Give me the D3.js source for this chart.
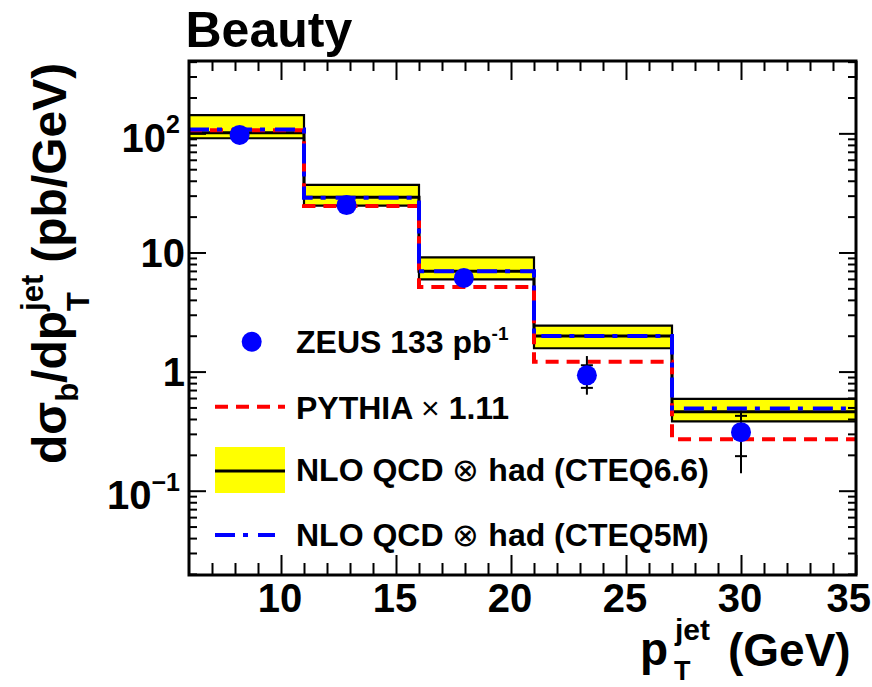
<!DOCTYPE html>
<html>
<head>
<meta charset="utf-8">
<script src="https://cdn.jsdelivr.net/npm/d3@7"></script>
<style>
  html, body { margin: 0; padding: 0; background: #fff; }
  svg { display: block; }
  text { font-family: "Liberation Sans", Arial, Helvetica, sans-serif; font-weight: bold; fill: #000; }
</style>
</head>
<body>
<svg id="chart" width="872" height="687"></svg>
<script>
// ---------------- data ----------------
const binEdges   = [6, 11, 16, 21, 27, 35];
const nloHigh    = [142, 37.0, 9.1, 2.43, 0.59];     // CTEQ6.6 band upper edge
const nloLow     = [91, 24.7, 5.95, 1.57, 0.382];    // CTEQ6.6 band lower edge
const nloCteq66  = [101, 29.1, 6.95, 1.99, 0.46];    // CTEQ6.6 central
const nloCteq5m  = [108, 28.8, 6.95, 1.99, 0.49];    // CTEQ5M
const pythia     = [106, 24.6, 5.13, 1.21, 0.27];    // PYTHIA x 1.11
const zeusX      = [8.2, 12.85, 17.95, 23.3, 30.0];
const zeusY      = [97, 25.0, 6.1, 0.93, 0.31];
const zeusStat   = [3, 0.8, 0.3, 0.2, 0.115];
const zeusErrUp  = [9, 2.5, 0.6, 0.42, 0.16];
const zeusErrDn  = [9, 2.5, 0.6, 0.29, 0.17];
const xMajorTicks = [10, 15, 20, 25, 30, 35];
const yMajorTicks = [0.1, 1, 10, 100];
const yTickLabels = [["10", "\u22121"], ["1", ""], ["10", ""], ["10", "2"]];
const legendLabels = ["ZEUS 133 pb", "PYTHIA", "NLO QCD", "NLO QCD"];

// ---------------- scales ----------------
const svg = d3.select("#chart");
const L = 189, R = 856, T = 61, B = 575;
const x = d3.scaleLinear().domain([6, 35]).range([L, R]);
const y = d3.scaleLog().domain([0.0196, 405]).range([B, T]);

// ---------------- theory ----------------
function stepData(vals) {
  const d = vals.map((v, i) => ({ x: binEdges[i], v }));
  d.push({ x: binEdges[binEdges.length - 1], v: vals[vals.length - 1] });
  return d;
}
const bandData = nloHigh.map((h, i) => ({ x: binEdges[i], hi: h, lo: nloLow[i] }));
bandData.push({ x: binEdges[binEdges.length - 1], hi: nloHigh[nloHigh.length - 1], lo: nloLow[nloLow.length - 1] });

const area = d3.area().curve(d3.curveStepAfter)
  .x(d => x(d.x)).y0(d => y(d.lo)).y1(d => y(d.hi));
const line = d3.line().curve(d3.curveStepAfter).x(d => x(d.x)).y(d => y(d.v));

const plot = svg.append("g");
plot.append("path").attr("d", area(bandData)).attr("fill", "#ffff00");
plot.append("path").attr("d", line(stepData(nloHigh))).attr("fill", "none").attr("stroke", "#000").attr("stroke-width", 2.2);
plot.append("path").attr("d", line(stepData(nloLow))).attr("fill", "none").attr("stroke", "#000").attr("stroke-width", 2.2);
plot.append("path").attr("d", line(stepData(nloCteq66))).attr("fill", "none").attr("stroke", "#000").attr("stroke-width", 3);
plot.append("path").attr("d", line(stepData(pythia))).attr("fill", "none").attr("stroke", "#ff0000").attr("stroke-width", 4).attr("stroke-dasharray", "13,8");
plot.append("path").attr("d", line(stepData(nloCteq5m))).attr("fill", "none").attr("stroke", "#0000ff").attr("stroke-width", 4).attr("stroke-dasharray", "20,8,5,10");

// ---------------- data points ----------------
const pts = zeusX.map((xv, i) => ({ x: xv, y: zeusY[i], st: zeusStat[i], up: zeusErrUp[i], dn: zeusErrDn[i] }));
const eb = plot.append("g").attr("stroke", "#000").attr("stroke-width", 2);
eb.selectAll("line.tot").data(pts).join("line")
  .attr("x1", d => x(d.x)).attr("x2", d => x(d.x))
  .attr("y1", d => y(d.y + d.up)).attr("y2", d => y(d.y - d.dn));
eb.selectAll("line.sh").data(pts).join("line")
  .attr("x1", d => x(d.x) - 6).attr("x2", d => x(d.x) + 6)
  .attr("y1", d => y(d.y + d.st)).attr("y2", d => y(d.y + d.st));
eb.selectAll("line.sl").data(pts).join("line")
  .attr("x1", d => x(d.x) - 6).attr("x2", d => x(d.x) + 6)
  .attr("y1", d => y(d.y - d.st)).attr("y2", d => y(d.y - d.st));
plot.selectAll("circle.pt").data(pts).join("circle")
  .attr("cx", d => x(d.x)).attr("cy", d => y(d.y)).attr("r", 10).attr("fill", "#0000ff");

// ---------------- axes (ticks) ----------------
const xMinor = d3.range(7, 35).filter(v => v % 5 !== 0);
const yMinor = [];
for (let e = -2; e <= 2; e++) for (let m = 2; m <= 9; m++) {
  const v = m * Math.pow(10, e);
  if (v > 0.0196 && v < 405) yMinor.push(v);
}
function styleAxis(g) {
  g.select(".domain").remove();
  g.selectAll(".tick line").attr("stroke", "#000").attr("stroke-width", 2);
  g.selectAll(".tick text").remove();
}
svg.append("g").attr("transform", `translate(0,${B})`).call(d3.axisBottom(x).tickValues(xMajorTicks).tickSize(-20).tickFormat("")).call(styleAxis);
svg.append("g").attr("transform", `translate(0,${B})`).call(d3.axisBottom(x).tickValues(xMinor).tickSize(-12).tickFormat("")).call(styleAxis);
svg.append("g").attr("transform", `translate(0,${T})`).call(d3.axisTop(x).tickValues(xMajorTicks).tickSize(-19).tickFormat("")).call(styleAxis);
svg.append("g").attr("transform", `translate(0,${T})`).call(d3.axisTop(x).tickValues(xMinor).tickSize(-10).tickFormat("")).call(styleAxis);
svg.append("g").attr("transform", `translate(${L},0)`).call(d3.axisLeft(y).tickValues(yMajorTicks).tickSize(-17).tickFormat("")).call(styleAxis);
svg.append("g").attr("transform", `translate(${L},0)`).call(d3.axisLeft(y).tickValues(yMinor).tickSize(-8).tickFormat("")).call(styleAxis);
svg.append("g").attr("transform", `translate(${R},0)`).call(d3.axisRight(y).tickValues(yMajorTicks).tickSize(-17).tickFormat("")).call(styleAxis);
svg.append("g").attr("transform", `translate(${R},0)`).call(d3.axisRight(y).tickValues(yMinor).tickSize(-8).tickFormat("")).call(styleAxis);

svg.append("rect").attr("x", L).attr("y", T).attr("width", R - L).attr("height", B - T)
  .attr("fill", "none").attr("stroke", "#000").attr("stroke-width", 3);

// ---------------- tick labels ----------------
svg.selectAll("text.xl").data(xMajorTicks).join("text")
  .attr("y", 611.5).attr("text-anchor", "middle").attr("font-size", 40)
  .text(d => d)
  .each(function (d) {
    const w = this.getComputedTextLength();
    this.setAttribute("x", Math.min(x(d) - 1, 871 - w / 2));
  });

yMajorTicks.forEach((v, i) => {
  const [base, sup] = yTickLabels[i];
  const t = svg.append("text").attr("text-anchor", "end").attr("font-size", 40)
    .attr("x", sup ? 180 : 185).attr("y", y(v) + (sup ? 18.5 : 14.5));
  t.append("tspan").text(base);
  if (sup) t.append("tspan").attr("font-size", 25).attr("dy", -18.5).text(sup);
});

// ---------------- titles ----------------
svg.append("text").attr("x", 185.5).attr("y", 46.5).attr("font-size", 50).text("Beauty");

// x-axis title
svg.append("text").attr("x", 640).attr("y", 665).attr("font-size", 46).text("p");
svg.append("text").attr("x", 675).attr("y", 640).attr("font-size", 30).text("jet");
svg.append("text").attr("x", 674).attr("y", 680).attr("font-size", 27).text("T");
svg.append("text").attr("x", 728).attr("y", 666).attr("font-size", 46).text("(GeV)");

// y-axis title
const yt = svg.append("g").attr("transform", "translate(66,464) rotate(-90)");
let u = 0;
function piece(txt, size, v, at) {
  const t = yt.append("text").attr("x", at).attr("y", v).attr("font-size", size).text(txt);
  return t.node().getComputedTextLength();
}
u += piece("d\u03c3", 48, 0, u);
u += piece("b", 31, 12, u);
u += piece("/dp", 48, 0, u);
const wT = piece("T", 31, 23, u);
const wJ = piece("jet", 31, -23, u);
u += Math.max(wT, wJ) + 12;
piece("(pb/GeV)", 48, 0, u);

// ---------------- legend ----------------
const lg = svg.append("g");
lg.append("circle").attr("cx", 251.7).attr("cy", 341.7).attr("r", 10).attr("fill", "#0000ff");
lg.append("line").attr("x1", 215).attr("x2", 285).attr("y1", 406.7).attr("y2", 406.7)
  .attr("stroke", "#ff0000").attr("stroke-width", 4).attr("stroke-dasharray", "13,8");
lg.append("rect").attr("x", 215).attr("y", 447).attr("width", 70).attr("height", 46).attr("fill", "#ffff00");
lg.append("line").attr("x1", 215).attr("x2", 285).attr("y1", 471).attr("y2", 471)
  .attr("stroke", "#000").attr("stroke-width", 3);
lg.append("line").attr("x1", 215).attr("x2", 275).attr("y1", 535).attr("y2", 535)
  .attr("stroke", "#0000ff").attr("stroke-width", 4).attr("stroke-dasharray", "20,8,5,10");

const fsL = 32;
const t1 = lg.append("text").attr("x", 296).attr("y", 353).attr("font-size", fsL);
t1.append("tspan").text(legendLabels[0]);
t1.append("tspan").attr("font-size", 19).attr("dy", -13).text("-1");

const t2 = lg.append("text").attr("x", 296).attr("y", 419).attr("font-size", fsL);
t2.append("tspan").text(legendLabels[1] + " ");
t2.append("tspan").attr("font-weight", "normal").text("\u00d7");
t2.append("tspan").text(" 1.11");

const t3 = lg.append("text").attr("x", 296).attr("y", 481).attr("font-size", fsL);
t3.append("tspan").text(legendLabels[2] + " ");
t3.append("tspan").attr("font-weight", "normal").text("\u2297");
t3.append("tspan").text(" had (CTEQ6.6)");

const t4 = lg.append("text").attr("x", 296).attr("y", 546).attr("font-size", fsL);
t4.append("tspan").text(legendLabels[3] + " ");
t4.append("tspan").attr("font-weight", "normal").text("\u2297");
t4.append("tspan").text(" had (CTEQ5M)");
</script>
</body>
</html>
